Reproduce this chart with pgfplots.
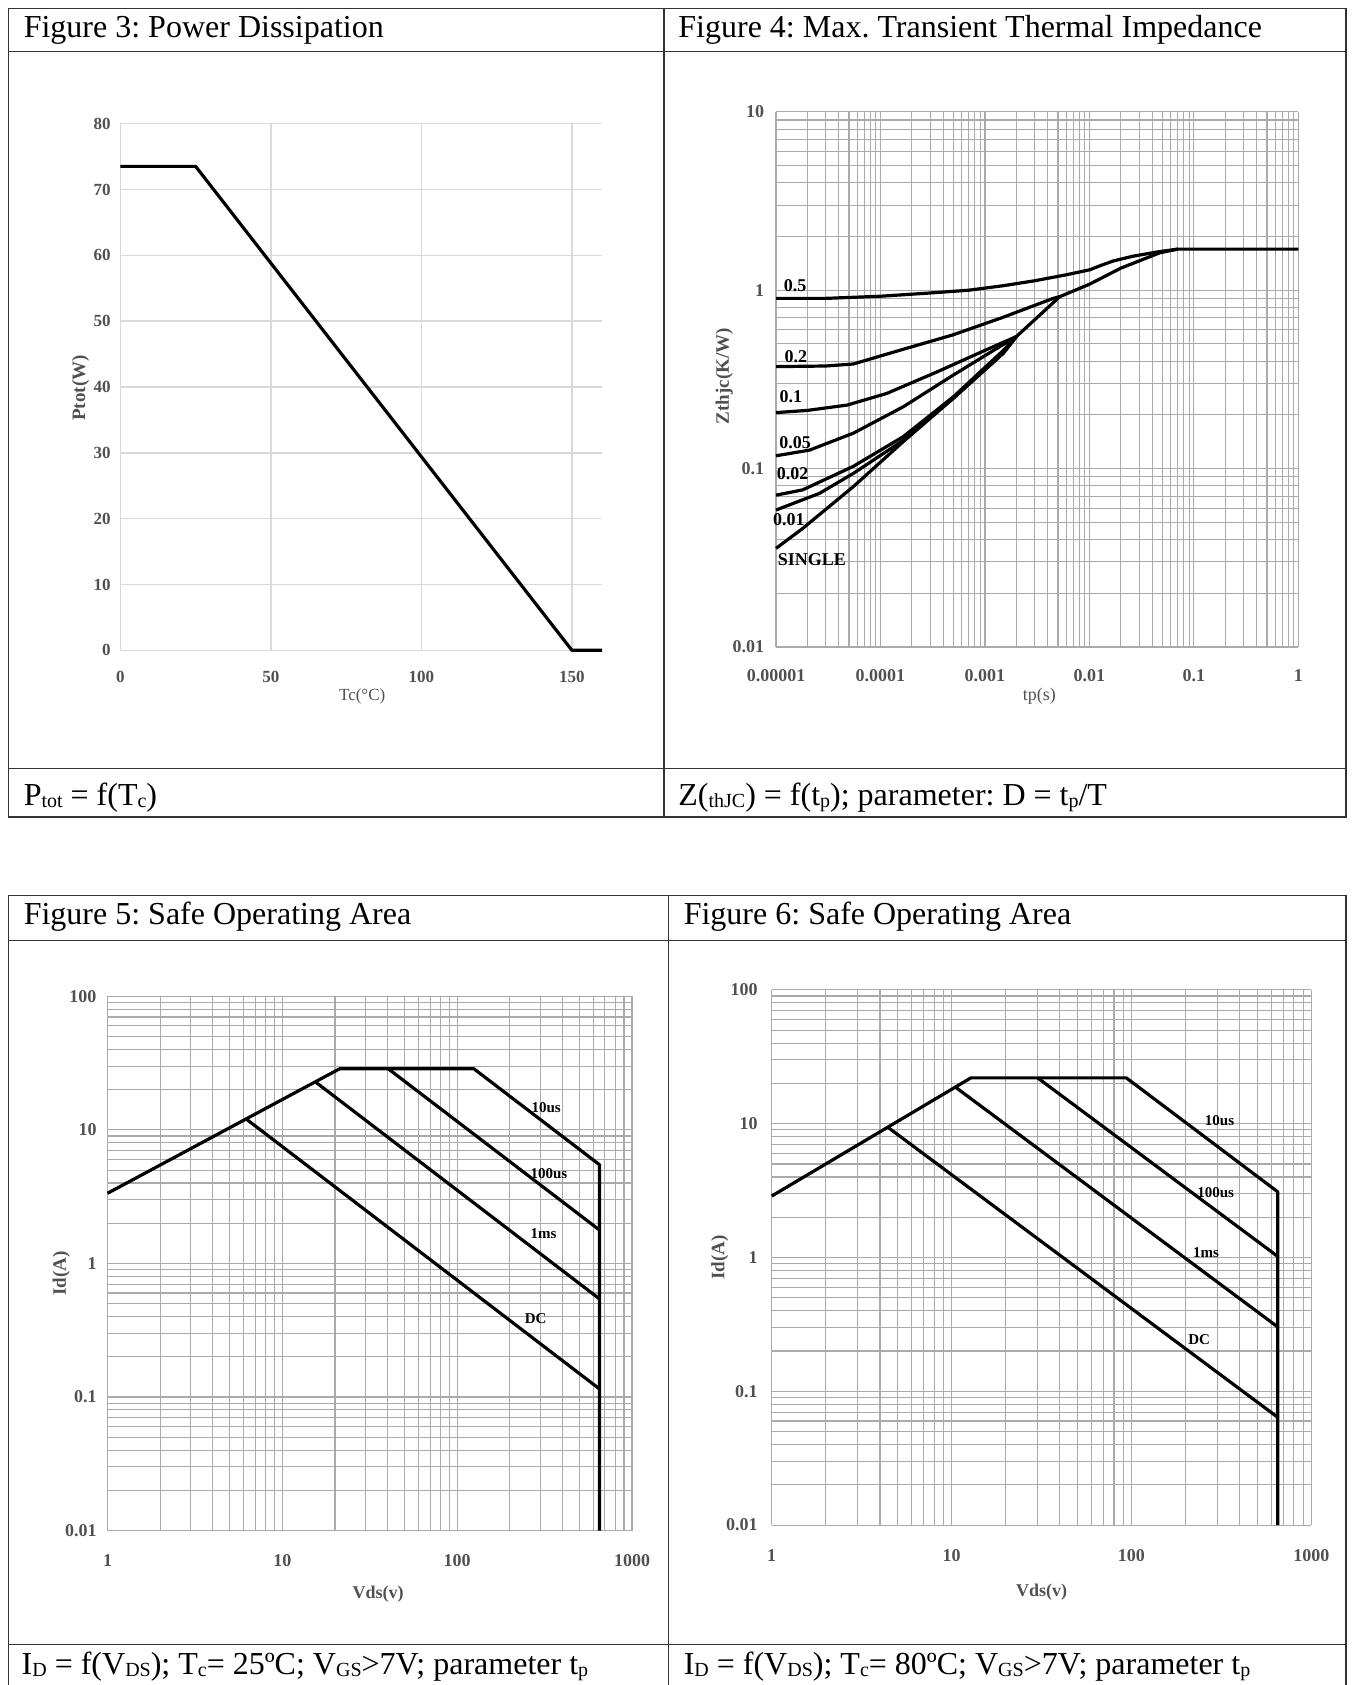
\documentclass[border=0pt]{standalone}
\usepackage{fontspec}
\setmainfont{Liberation Serif}
\usepackage{pgfplots}
\pgfplotsset{compat=1.18}
\frenchspacing

\definecolor{lbl}{HTML}{505050}
\definecolor{gridlt}{HTML}{D9D9D9}
\definecolor{griddk}{HTML}{AAAAAA}
\definecolor{rule}{HTML}{333333}

\newcommand\hdr{\fontsize{32}{36}\selectfont}
\newcommand\sub[1]{\raisebox{-0.08em}{\fontsize{20}{20}\selectfont #1}}
\newcommand\curvelbl{\fontsize{18}{18}\selectfont\bfseries}
\newcommand\soalbl{\fontsize{15}{15}\selectfont\bfseries}

\pgfplotsset{
  curve/.style={black, solid, mark=none, line width=3.2pt, line join=round},
  sheet/.style={
    scale only axis, anchor=south west, clip=false,
    axis line style={draw=none}, tick style={draw=none},
    major tick length=0pt, minor tick length=0pt,
    ticklabel style={text=lbl, inner sep=0pt, font=\fontsize{18}{18}\selectfont\bfseries},
    xticklabel style={anchor=center},
    yticklabel style={anchor=east},
    label style={text=lbl},
  },
  loggrid/.style={
    sheet, grid=both,
    major grid style={griddk, line width=1.1pt},
    minor grid style={griddk, line width=1.1pt},
  },
  soagrid/.style={
    loggrid,
    xmin=1, xmax=1000, ymin=0.01, ymax=100,
    xtick={1,10,100,1000}, xticklabels={1,10,100,1000},
    ytick={0.01,0.1,1,10,100}, yticklabels={0.01,0.1,1,10,100},
    minor xtick={2,3,4,5,6,7,8,9,20,30,40,50,60,70,80,90,200,300,400,500,600,700,800,900},
    minor ytick={0.02,0.03,0.04,0.05,0.06,0.07,0.08,0.09,0.2,0.3,0.4,0.5,0.6,0.7,0.8,0.9,2,3,4,5,6,7,8,9,20,30,40,50,60,70,80,90},
    xlabel={Vds(v)}, ylabel={Id(A)},
  },
}

\begin{document}
\begin{tikzpicture}[x=1pt,y=1pt]
\useasboundingbox (0,0) rectangle (1351,-1685);

% ---- Figure 3: power dissipation
\begin{axis}[sheet, at={(120.4pt,-650.3pt)}, width=481.6pt, height=526.7pt,
  xmin=0, xmax=160, ymin=0, ymax=80,
  xtick={0,50,100,150}, xticklabels={0,50,100,150},
  ytick={0,10,20,30,40,50,60,70,80}, yticklabels={0,10,20,30,40,50,60,70,80},
  grid=major, major grid style={gridlt, line width=1.5pt},
  ticklabel style={font=\fontsize{17}{17}\selectfont\bfseries},
  xticklabel style={yshift=-27pt}, yticklabel style={xshift=-9.7pt},
  xlabel={Tc(°C)}, ylabel={Ptot(W)},
  xlabel style={at={(axis description cs:0.502,-0.088)}, anchor=center, font=\fontsize{17}{17}\selectfont},
  ylabel style={at={(axis description cs:-0.083,0.498)}, anchor=center, font=\fontsize{19}{19}\selectfont\bfseries},
]
\addplot[curve] coordinates {(0,73.5) (25,73.5) (150,0) (160,0)};
\end{axis}

% ---- Figure 4: transient thermal impedance
\begin{loglogaxis}[loggrid, at={(776pt,-647pt)}, width=522.4pt, height=535.2pt,
  xmin=1e-5, xmax=1, ymin=0.01, ymax=10,
  xtick={1e-5,1e-4,1e-3,1e-2,1e-1,1}, xticklabels={0.00001,0.0001,0.001,0.01,0.1,1},
  ytick={0.01,0.1,1,10}, yticklabels={0.01,0.1,1,10},
  minor xtick={2e-5,3e-5,4e-5,5e-5,6e-5,7e-5,8e-5,9e-5,2e-4,3e-4,4e-4,5e-4,6e-4,7e-4,8e-4,9e-4,0.002,0.003,0.004,0.005,0.006,0.007,0.008,0.009,0.02,0.03,0.04,0.05,0.06,0.07,0.08,0.09,0.2,0.3,0.4,0.5,0.6,0.7,0.8,0.9},
  minor ytick={0.02,0.03,0.04,0.05,0.06,0.07,0.08,0.09,0.2,0.3,0.4,0.5,0.6,0.7,0.8,0.9,2,3,4,5,6,7,8,9},
  xticklabel style={yshift=-29pt}, yticklabel style={xshift=-11.8pt},
  xlabel={tp(s)}, ylabel={Zthjc(K/W)},
  xlabel style={at={(axis description cs:0.504,-0.0925)}, anchor=center, font=\fontsize{18}{18}\selectfont},
  ylabel style={at={(axis description cs:-0.099,0.506)}, anchor=center, font=\fontsize{19}{19}\selectfont\bfseries},
]
% D = 0.5
\addplot[curve] coordinates {(1e-5,0.90) (3e-5,0.90) (1e-4,0.925) (3e-4,0.965) (7e-4,1.0) (1.5e-3,1.06) (3e-3,1.13) (6e-3,1.22) (1e-2,1.30) (1.3e-2,1.38) (1.7e-2,1.46) (2.6e-2,1.55) (4.5e-2,1.64) (0.07,1.70) (1,1.70)};
% D = 0.2
\addplot[curve] coordinates {(1e-5,0.373) (3e-5,0.376) (5.5e-5,0.386) (1.64e-4,0.466) (4.9e-4,0.561) (1.49e-3,0.705) (4.5e-3,0.90) (5.2e-3,0.92)};
% D = 0.1
\addplot[curve] coordinates {(1e-5,0.206) (2e-5,0.212) (4.8e-5,0.227) (1.15e-4,0.264) (3.5e-4,0.349) (1.05e-3,0.466) (2e-3,0.55)};
% D = 0.05
\addplot[curve] coordinates {(1e-5,0.118) (2.1e-5,0.127) (5.5e-5,0.158) (1.65e-4,0.222) (5e-4,0.335) (1.3e-3,0.472) (2e-3,0.55)};
% D = 0.02
\addplot[curve] coordinates {(1e-5,0.071) (1.8e-5,0.076) (5.5e-5,0.103) (1.65e-4,0.151) (5e-4,0.253) (1.5e-3,0.46) (2e-3,0.55)};
% D = 0.01
\addplot[curve] coordinates {(1e-5,0.0586) (2.6e-5,0.0726) (5.5e-5,0.094) (1.65e-4,0.144) (5e-4,0.25) (1.5e-3,0.445) (2e-3,0.55)};
% single pulse
\addplot[curve] coordinates {(1e-5,0.0357) (1.8e-5,0.0462) (5.5e-5,0.0793) (1.65e-4,0.1416) (5e-4,0.248) (1.5e-3,0.443) (2e-3,0.55)};
% common part after the curves meet
\addplot[curve] coordinates {(2e-3,0.55) (3e-3,0.684) (5.2e-3,0.92) (1e-2,1.08) (2e-2,1.33) (4.7e-2,1.62) (0.07,1.70)};
\node[font=\curvelbl] at (axis cs:1.52e-5,1.06) {0.5};
\node[font=\curvelbl] at (axis cs:1.55e-5,0.424) {0.2};
\node[font=\curvelbl] at (axis cs:1.39e-5,0.253) {0.1};
\node[font=\curvelbl] at (axis cs:1.52e-5,0.139) {0.05};
\node[font=\curvelbl] at (axis cs:1.44e-5,0.094) {0.02};
\node[font=\curvelbl] at (axis cs:1.33e-5,0.052) {0.01};
\node[font=\curvelbl] at (axis cs:2.2e-5,0.0308) {SINGLE};
\end{loglogaxis}

% ---- Figure 5: SOA at 25 C
\begin{loglogaxis}[soagrid, at={(107.5pt,-1530.5pt)}, width=524.5pt, height=534.2pt,
  xticklabel style={yshift=-30pt}, yticklabel style={xshift=-10.8pt},
  xlabel style={at={(axis description cs:0.516,-0.119)}, anchor=center, font=\fontsize{18}{18}\selectfont\bfseries},
  ylabel style={at={(axis description cs:-0.088,0.481)}, anchor=center, font=\fontsize{19}{19}\selectfont\bfseries},
]
\addplot[curve] coordinates {(1,3.35) (21.3,28.7) (124.5,28.7) (651,5.49) (651,0.01)};
\addplot[curve] coordinates {(40.3,28.7) (651,1.78)};
\addplot[curve] coordinates {(15.5,22.8) (651,0.543)};
\addplot[curve] coordinates {(6.14,12.2) (651,0.115)};
\node[font=\soalbl] at (axis cs:323,14.8) {10us};
\node[font=\soalbl] at (axis cs:335,4.7) {100us};
\node[font=\soalbl] at (axis cs:312,1.68) {1ms};
\node[font=\soalbl] at (axis cs:281,0.385) {DC};
\end{loglogaxis}

% ---- Figure 6: SOA at 80 C
\begin{loglogaxis}[soagrid, at={(771.7pt,-1525.1pt)}, width=539.6pt, height=535.2pt,
  xticklabel style={yshift=-30pt}, yticklabel style={xshift=-14pt},
  xlabel style={at={(axis description cs:0.50,-0.125)}, anchor=center, font=\fontsize{18}{18}\selectfont\bfseries},
  ylabel style={at={(axis description cs:-0.096,0.50)}, anchor=center, font=\fontsize{19}{19}\selectfont\bfseries},
]
\addplot[curve] coordinates {(1,2.88) (12.8,22.0) (93.7,22.0) (650,3.1) (650,0.01)};
\addplot[curve] coordinates {(30.1,22.0) (650,1.02)};
\addplot[curve] coordinates {(10.6,18.6) (650,0.303)};
\addplot[curve] coordinates {(4.45,9.35) (650,0.064)};
\node[font=\soalbl] at (axis cs:309,10.6) {10us};
\node[font=\soalbl] at (axis cs:294,3.07) {100us};
\node[font=\soalbl] at (axis cs:260,1.08) {1ms};
\node[font=\soalbl] at (axis cs:238,0.245) {DC};
\end{loglogaxis}

% ---- table frames
\begin{scope}[rule, line width=1.6pt]
\draw (8.6,-8.6) rectangle (1345.7,-816.8);
\draw (8.6,-51.6) -- (1345.7,-51.6);
\draw (8.6,-768.5) -- (1345.7,-768.5);
\draw (664.2,-8.6) -- (664.2,-816.8);
\draw (8.6,-1700) -- (8.6,-895.3) -- (1345.7,-895.3) -- (1345.7,-1700);
\draw (8.6,-940.5) -- (1345.7,-940.5);
\draw (8.6,-1644.4) -- (1345.7,-1644.4);
\draw (668.5,-895.3) -- (668.5,-1700);
\end{scope}

\begin{scope}[every node/.style={anchor=base west, inner sep=0pt, font=\hdr}]
\node at (23.6,-37.6) {Figure 3: Power Dissipation};
\node at (678.2,-37.6) {Figure 4: Max. Transient Thermal Impedance};
\node at (23.6,-805) {P\sub{tot} = f(T\sub{c})};
\node at (678.2,-805) {Z(\sub{thJC}) = f(t\sub{p}); parameter: D = t\sub{p}/T};
\node at (23.6,-924.3) {Figure 5: Safe Operating Area};
\node at (683.6,-924.3) {Figure 6: Safe Operating Area};
\node at (21.5,-1674) {I\sub{D} = f(V\sub{DS}); T\sub{c}= 25ºC; V\sub{GS}>7V; parameter t\sub{p}};
\node at (683.6,-1674) {I\sub{D} = f(V\sub{DS}); T\sub{c}= 80ºC; V\sub{GS}>7V; parameter t\sub{p}};
\end{scope}
\end{tikzpicture}
\end{document}
